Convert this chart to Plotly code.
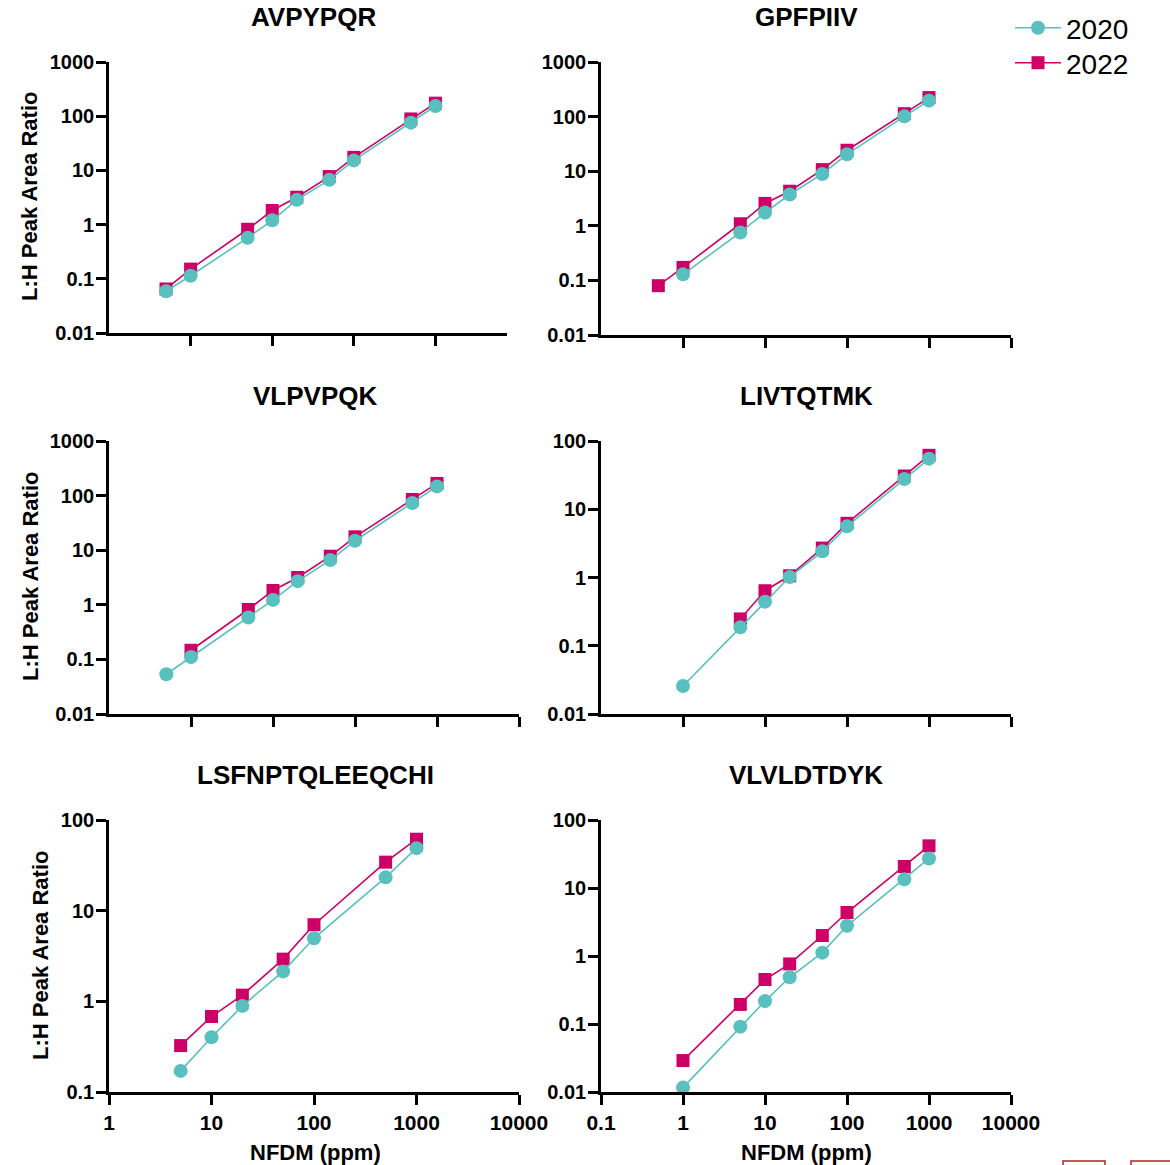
import plotly.graph_objects as go

# ---------------- data ----------------
conc_9 = [0.5, 1, 5, 10, 20, 50, 100, 500, 1000]
conc_8 = [1, 5, 10, 20, 50, 100, 500, 1000]
conc_7 = [5, 10, 20, 50, 100, 500, 1000]

avpypqr_x_2020 = conc_9
avpypqr_2020 = [0.059, 0.114, 0.57, 1.2, 2.86, 6.7, 15.3, 76, 154]
avpypqr_x_2022 = conc_9
avpypqr_2022 = [0.065, 0.151, 0.82, 1.82, 3.2, 7.7, 17.4, 89, 174]

gpfpiiv_x_2020 = conc_8
gpfpiiv_2020 = [0.129, 0.755, 1.75, 3.74, 8.9, 20.4, 101, 196]
gpfpiiv_x_2022 = conc_9
gpfpiiv_2022 = [0.08, 0.173, 1.09, 2.57, 4.3, 10.7, 24.2, 113, 223]

vlpvpqk_x_2020 = conc_9
vlpvpqk_2020 = [0.0534, 0.111, 0.585, 1.23, 2.71, 6.58, 14.9, 73, 147.5]
vlpvpqk_x_2022 = conc_8
vlpvpqk_2022 = [0.147, 0.82, 1.83, 3.16, 7.77, 17.6, 85, 167]

livtqtmk_x_2020 = conc_8
livtqtmk_2020 = [0.0257, 0.186, 0.443, 1.016, 2.42, 5.62, 27.7, 55.1]
livtqtmk_x_2022 = conc_7
livtqtmk_2022 = [0.247, 0.64, 1.06, 2.7, 6.22, 30.7, 61.7]

lsfn_x_2020 = conc_7
lsfn_2020 = [0.171, 0.401, 0.891, 2.14, 4.96, 23.3, 48.9]
lsfn_x_2022 = conc_7
lsfn_2022 = [0.325, 0.68, 1.17, 2.92, 7.0, 34.3, 61.4]

vlvl_x_2020 = conc_8
vlvl_2020 = [0.0116, 0.0914, 0.217, 0.487, 1.12, 2.78, 13.4, 27.2]
vlvl_x_2022 = conc_8
vlvl_2022 = [0.029, 0.194, 0.451, 0.764, 2.0, 4.36, 20.7, 41.7]

titles = ["AVPYPQR", "GPFPIIV", "VLPVPQK", "LIVTQTMK", "LSFNPTQLEEQCHI", "VLVLDTDYK"]
series_names = ["2020", "2022"]
y_title = "L:H Peak Area Ratio"
x_title = "NFDM (ppm)"

# ---------------- layout geometry ----------------
W, H = 1170, 1165
FONT = "Liberation Sans, Arial, sans-serif"
C2020 = "#58C0BE"
C2022 = "#CC0066"

def px_x(p):
    return p / W

def px_y(p):
    return 1 - p / H

# panel: (x0, x1, ytop, ybottom, xrange(log), yrange(log), xtickvals, show x labels, ytickvals)
panels = [
    (109, 507, 62, 333, [-1, 3.877], [-2, 3], [1, 10, 100, 1000], False, [0.01, 0.1, 1, 10, 100, 1000]),
    (601, 1011, 62, 335, [-1, 4], [-2, 3], [1, 10, 100, 1000, 10000], False, [0.01, 0.1, 1, 10, 100, 1000]),
    (109, 519, 441, 714, [-1, 4], [-2, 3], [1, 10, 100, 1000, 10000], False, [0.01, 0.1, 1, 10, 100, 1000]),
    (601, 1011, 441, 714, [-1, 4], [-2, 2], [1, 10, 100, 1000, 10000], False, [0.01, 0.1, 1, 10, 100]),
    (109, 519, 820, 1092, [0, 4], [-1, 2], [1, 10, 100, 1000, 10000], True, [0.1, 1, 10, 100]),
    (601, 1011, 820, 1092, [-1, 4], [-2, 2], [0.1, 1, 10, 100, 1000, 10000], True, [0.01, 0.1, 1, 10, 100]),
]

data = [
    (avpypqr_x_2020, avpypqr_2020, avpypqr_x_2022, avpypqr_2022),
    (gpfpiiv_x_2020, gpfpiiv_2020, gpfpiiv_x_2022, gpfpiiv_2022),
    (vlpvpqk_x_2020, vlpvpqk_2020, vlpvpqk_x_2022, vlpvpqk_2022),
    (livtqtmk_x_2020, livtqtmk_2020, livtqtmk_x_2022, livtqtmk_2022),
    (lsfn_x_2020, lsfn_2020, lsfn_x_2022, lsfn_2022),
    (vlvl_x_2020, vlvl_2020, vlvl_x_2022, vlvl_2022),
]

def fmt(v):
    if v >= 1:
        return str(int(round(v)))
    return ("%g" % v)

legend_common = dict(xanchor="left", yanchor="middle",
                     font=dict(family=FONT, size=28, color="black"),
                     bgcolor="rgba(0,0,0,0)", itemwidth=46, tracegroupgap=0)

fig = go.Figure()
layout = dict(
    width=W, height=H, autosize=False,
    margin=dict(l=0, r=0, t=0, b=0, pad=0, autoexpand=False),
    paper_bgcolor="white", plot_bgcolor="white",
    font=dict(family=FONT, color="black"),
    showlegend=True,
    legend=dict(x=px_x(1010), y=px_y(28), **legend_common),
    legend2=dict(x=px_x(1010), y=px_y(63), **legend_common),
    annotations=[], shapes=[],
)

for i, (pan, d) in enumerate(zip(panels, data)):
    x0, x1, yt, yb, xr, yr, xtv, showxl, ytv = pan
    n = i + 1
    xa = "x" if n == 1 else "x%d" % n
    ya = "y" if n == 1 else "y%d" % n
    xkey = "xaxis" if n == 1 else "xaxis%d" % n
    ykey = "yaxis" if n == 1 else "yaxis%d" % n
    x20, y20, x22, y22 = d
    fig.add_trace(go.Scatter(
        x=x22, y=y22, mode="lines+markers", name=series_names[1],
        line=dict(color=C2022, width=1.6),
        marker=dict(symbol="square", size=13, color=C2022),
        xaxis=xa, yaxis=ya, showlegend=(n == 1), legend="legend2", legendgroup="2022"))
    fig.add_trace(go.Scatter(
        x=x20, y=y20, mode="lines+markers", name=series_names[0],
        line=dict(color=C2020, width=1.6),
        marker=dict(symbol="circle", size=14, color=C2020),
        xaxis=xa, yaxis=ya, showlegend=(n == 1), legend="legend", legendgroup="2020"))

    layout[xkey] = dict(
        type="log", range=xr, domain=[px_x(x0), px_x(x1)], anchor=ya,
        showline=True, linewidth=2.6, linecolor="black",
        ticks="outside", ticklen=10, tickwidth=2.6, tickcolor="black",
        tickvals=xtv, ticktext=[fmt(v) for v in xtv], showticklabels=showxl,
        tickfont=dict(family=FONT, size=21, color="black", weight="bold"),
        showgrid=False, zeroline=False, fixedrange=True, automargin=False)
    layout[ykey] = dict(
        type="log", range=yr, domain=[px_y(yb), px_y(yt)], anchor=xa,
        showline=True, linewidth=2.6, linecolor="black",
        ticks="outside", ticklen=10, tickwidth=2.6, tickcolor="black",
        tickvals=ytv, ticktext=[fmt(v) for v in ytv], ticklabelstandoff=-2,
        tickfont=dict(family=FONT, size=20, color="black", weight="bold"),
        showgrid=False, zeroline=False, fixedrange=True, automargin=False)

# panel titles
title_pos = [(313, 17), (806, 17), (315, 396), (806, 396), (315, 775), (806, 775)]
for t, (cx, cy) in zip(titles, title_pos):
    layout["annotations"].append(dict(
        text="<b>%s</b>" % t, x=px_x(cx), y=px_y(cy), xref="paper", yref="paper",
        xanchor="center", yanchor="middle", showarrow=False,
        font=dict(family=FONT, size=26, color="black")))

# y axis titles
for cx, cy in [(30, 197), (30, 577), (40, 956)]:
    layout["annotations"].append(dict(
        text="<b>%s</b>" % y_title, x=px_x(cx), y=px_y(cy), xref="paper", yref="paper",
        xanchor="center", yanchor="middle", showarrow=False, textangle=-90,
        font=dict(family=FONT, size=22, color="black")))

# x axis titles
for cx in [315, 806]:
    layout["annotations"].append(dict(
        text="<b>%s</b>" % x_title, x=px_x(cx), y=px_y(1152), xref="paper", yref="paper",
        xanchor="center", yanchor="middle", showarrow=False,
        font=dict(family=FONT, size=22, color="black")))

# small clipped boxes at bottom-right corner of the reference image
for bx0, bx1 in [(1063, 1105), (1131, 1175)]:
    layout["shapes"].append(dict(
        type="rect", xref="paper", yref="paper",
        x0=px_x(bx0), x1=px_x(bx1), y0=px_y(1175), y1=px_y(1161),
        line=dict(color="#B22222", width=1.5), fillcolor="rgba(0,0,0,0)"))

fig.update_layout(**layout)
fig.write_html("out.html", config={"displayModeBar": False})
